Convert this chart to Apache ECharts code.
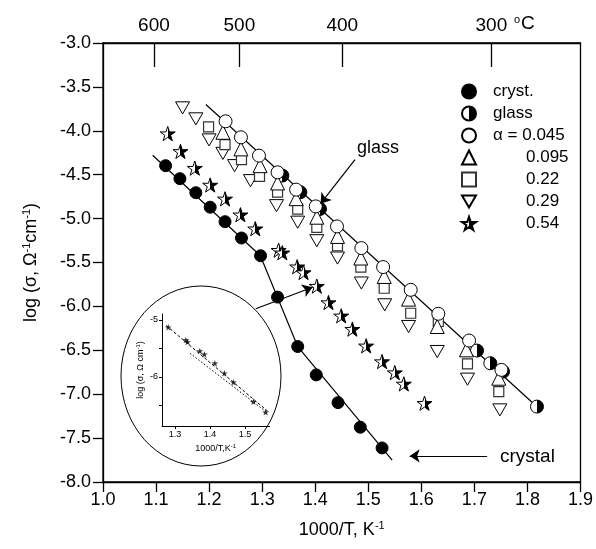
<!DOCTYPE html>
<html>
  <head>
    <meta charset="UTF-8" />
    <script src="https://cdn.jsdelivr.net/npm/echarts@6/dist/echarts.min.js"></script>
  </head>
  <body style="margin:0;background:#fff">
    <div id="main" style="width:596px;height:549px"></div>
    <script>
      // log(sigma) vs 1000/T
      const cryst = [[1.118,-4.397],[1.145,-4.545],[1.175,-4.705],[1.202,-4.870],[1.230,-5.035],[1.261,-5.221],[1.297,-5.423],[1.329,-5.894],[1.367,-6.457],[1.402,-6.780],[1.443,-7.096],[1.485,-7.376],[1.526,-7.612]];
      const glass = [[1.338,-4.51],[1.372,-4.70],[1.409,-4.89],[1.705,-6.503],[1.730,-6.647],[1.754,-6.742],[1.818,-7.141]];
      const a045 = [[1.231,-3.892],[1.260,-4.074],[1.294,-4.283],[1.329,-4.473],[1.364,-4.670],[1.401,-4.861],[1.441,-5.089],[1.487,-5.336],[1.528,-5.552],[1.580,-5.811],[1.632,-6.084],[1.690,-6.389],[1.751,-6.723]];
      const a095 = [[1.226,-4.017],[1.260,-4.206],[1.296,-4.397],[1.329,-4.594],[1.364,-4.773],[1.403,-4.984],[1.442,-5.203],[1.486,-5.449],[1.530,-5.659],[1.576,-5.917],[1.630,-6.229],[1.685,-6.495],[1.746,-6.818]];
      const a022 = [[1.199,-3.955],[1.230,-4.157],[1.261,-4.328],[1.295,-4.519],[1.329,-4.699],[1.367,-4.893],[1.403,-5.101],[1.442,-5.309],[1.486,-5.553],[1.530,-5.793],[1.580,-6.078],[1.632,-6.172],[1.687,-6.655],[1.746,-6.970]];
      const a029 = [[1.150,-3.739],[1.175,-3.864],[1.200,-4.104],[1.226,-4.257],[1.248,-4.397],[1.278,-4.568],[1.327,-4.853],[1.367,-5.041],[1.403,-5.252],[1.442,-5.449],[1.487,-5.734],[1.531,-5.982],[1.576,-6.229],[1.630,-6.514],[1.687,-6.829],[1.748,-7.179]];
      const a054 = [[1.122,-4.032],[1.146,-4.234],[1.173,-4.425],[1.202,-4.617],[1.230,-4.775],[1.259,-4.956],[1.287,-5.115],[1.331,-5.360],[1.338,-5.389],[1.366,-5.548],[1.378,-5.614],[1.403,-5.769],[1.425,-5.956],[1.449,-6.107],[1.470,-6.259],[1.496,-6.449],[1.526,-6.628],[1.550,-6.754],[1.567,-6.883],[1.606,-7.103]];
      const crystFit = [[1.0936,-4.279],[1.2966,-5.423],[1.367,-6.457],[1.545,-7.75]];
      const glassFit = [[1.194,-3.701],[1.821,-7.160]];

      // inset
      const insetStars = [[1.281,-5.128],[1.331,-5.351],[1.336,-5.386],[1.371,-5.544],[1.384,-5.602],[1.414,-5.760],[1.441,-5.935],[1.467,-6.093],[1.524,-6.433],[1.559,-6.619]];
      const insetUpper = [[1.275,-5.097],[1.565,-6.602]];
      const insetLower = [[1.343,-5.585],[1.565,-6.633]];

      // top axis: temperature in C and where its ticks sit on 1000/T
      const topTemps = [600, 500, 400, 300];
      const topPos = [1.096, 1.257, 1.451, 1.732];

      const legendNames = ['cryst.', 'glass', 'α = 0.045', '0.095', '0.22', '0.29', '0.54'];

      // annotation arrows [from, to]
      const arrows = [
        [[1.288,-6.027],[1.395,-5.782]],
        [[1.475,-4.328],[1.410,-4.830]],
        [[1.724,-7.703],[1.578,-7.703]]
      ];

      const font = 'Liberation Sans, Arial, sans-serif';

      function starPath() {
        let d = '';
        for (let i = 0; i < 10; i++) {
          const r = i % 2 ? 19.1 : 50;
          const a = Math.PI / 5 * i - Math.PI / 2;
          d += (i ? 'L' : 'M') + (50 + r * Math.cos(a)).toFixed(2) + ' ' + (50 + r * Math.sin(a)).toFixed(2);
        }
        return 'path://' + d + 'Z';
      }
      const star = starPath();
      const downTri = 'path://M0 0L20 0L10 17.32Z';
      const half = () => new echarts.graphic.LinearGradient(0, 0, 1, 0, [
        { offset: 0, color: '#fff' }, { offset: 0.5, color: '#fff' },
        { offset: 0.5, color: '#000' }, { offset: 1, color: '#000' }
      ]);

      const sup = { fontSize: 11, padding: [0, 0, 9, 0], fontFamily: font, color: '#000' };
      const supSmall = { fontSize: 6, padding: [0, 0, 5, 0], fontFamily: font, color: '#000' };
      const axisLine = { show: true, lineStyle: { color: '#000', width: 1.3 } };

      function scatter(name, data, symbol, size, color, extra) {
        return Object.assign({
          name, type: 'scatter', data, symbol, symbolSize: size,
          symbolKeepAspect: true,
          itemStyle: { color, borderColor: '#000', borderWidth: 1, opacity: 1 },
          xAxisIndex: 0, yAxisIndex: 0, z: 3
        }, extra || {});
      }
      function fit(data, extra) {
        return Object.assign({
          type: 'line', data, symbol: 'none', silent: true,
          lineStyle: { color: '#000', width: 1.2 },
          xAxisIndex: 0, yAxisIndex: 0, z: 2
        }, extra || {});
      }

      const chart = echarts.init(document.getElementById('main'));
      chart.setOption({
        animation: false,
        textStyle: { fontFamily: font },
        grid: [
          { left: 103, right: 12, top: 43, bottom: 67, show: true, borderColor: '#000', borderWidth: 1.3 },
          { left: 162, top: 314, width: 107.5, height: 112 }
        ],
        legend: {
          orient: 'vertical', left: 456, top: 78, itemWidth: 14, itemHeight: 14, itemGap: 5,
          data: legendNames,
          formatter: n => (n[0] === '0' ? '{w| }' : '{g| }') + n,
          textStyle: {
            fontSize: 17, color: '#000', fontFamily: font, lineHeight: 14,
            rich: { w: { width: 45, fontSize: 17, lineHeight: 14 }, g: { width: 12, fontSize: 17, lineHeight: 14 } }
          }
        },
        xAxis: [
          {
            type: 'value', min: 1, max: 1.9, interval: 0.1, gridIndex: 0,
            axisLine, splitLine: { show: false },
            axisTick: { length: 10, lineStyle: { color: '#000', width: 1.3 } },
            axisLabel: { formatter: v => v.toFixed(1), fontSize: 18, color: '#000', margin: 9, fontFamily: font },
            name: '1000/T, K{s|-1}', nameLocation: 'middle', nameGap: 38,
            nameTextStyle: { fontSize: 18, color: '#000', fontFamily: font, rich: { s: sup } }
          },
          {
            type: 'value', min: 1, max: 1.9, position: 'top', gridIndex: 0,
            axisLine, splitLine: { show: false },
            axisTick: { show: true, inside: true, length: 24, customValues: topPos, lineStyle: { color: '#000', width: 1.3 } },
            axisLabel: {
              customValues: topPos, fontSize: 19, color: '#000', margin: 8, fontFamily: font,
              formatter: v => {
                let k = 0;
                topPos.forEach((p, i) => { if (Math.abs(p - v) < Math.abs(topPos[k] - v)) k = i; });
                return String(topTemps[k]);
              }
            }
          },
          {
            type: 'value', min: 1.263, max: 1.57, gridIndex: 1,
            axisLine: { show: true, lineStyle: { color: '#000', width: 1 } }, splitLine: { show: false },
            axisTick: { customValues: [1.3, 1.4, 1.5], length: 3, lineStyle: { color: '#000' } },
            axisLabel: { customValues: [1.3, 1.4, 1.5], formatter: v => v.toFixed(1), fontSize: 9, color: '#000', margin: 4 },
            name: '1000/T,K{s|-1}', nameLocation: 'middle', nameGap: 17,
            nameTextStyle: { fontSize: 9, color: '#000', fontFamily: font, rich: { s: supSmall } }
          }
        ],
        yAxis: [
          {
            type: 'value', min: -8, max: -3, interval: 0.5, gridIndex: 0,
            axisLine, splitLine: { show: false },
            axisTick: { length: 10, lineStyle: { color: '#000', width: 1.3 } },
            axisLabel: { formatter: v => v.toFixed(1), fontSize: 18, color: '#000', margin: 12, fontFamily: font },
            name: 'log (σ, Ω{s|-1}cm{s|-1})', nameLocation: 'middle', nameGap: 62, nameRotate: 90,
            nameTextStyle: { fontSize: 18, color: '#000', fontFamily: font, rich: { s: sup } }
          },
          {
            type: 'value', min: -6.86, max: -4.895, gridIndex: 1,
            axisLine: { show: true, lineStyle: { color: '#000', width: 1 } }, splitLine: { show: false },
            axisTick: { customValues: [-6.5, -6, -5.5, -5], length: 3, lineStyle: { color: '#000' } },
            axisLabel: { customValues: [-6, -5], fontSize: 9, color: '#000', margin: 4 },
            name: 'log (σ, Ω cm{s|-1})', nameLocation: 'middle', nameGap: 16, nameRotate: 90,
            nameTextStyle: { fontSize: 9, color: '#000', fontFamily: font, rich: { s: supSmall } }
          }
        ],
        graphic: [
          { type: 'ellipse', shape: { cx: 201, cy: 376, rx: 80, ry: 90 }, style: { fill: 'none', stroke: '#000', lineWidth: 1 }, z: 1 },
          { type: 'text', left: 357, top: 139, style: { text: 'glass', fontSize: 18, fill: '#000', fontFamily: font } },
          { type: 'text', left: 500, top: 447, style: { text: 'crystal', fontSize: 19, fill: '#000', fontFamily: font } },
          {
            type: 'text', left: 514, top: 14,
            style: { text: '{o|o}C', fontSize: 19, fill: '#000', fontFamily: font, rich: { o: { fontSize: 11, padding: [0, 1, 9, 0], fontFamily: font } } }
          }
        ],
        series: [
          scatter('glass', glass, 'circle', 13, half(), { z: 2 }),
          fit(glassFit),
          fit(crystFit),
          scatter('cryst.', cryst, 'circle', 12, '#000'),
          scatter('0.29', a029, downTri, 14, '#fff'),
          scatter('0.22', a022, 'rect', 10, '#fff', { itemStyle: { color: '#fff', borderColor: '#333', borderWidth: 1.2, opacity: 1 } }),
          scatter('0.095', a095, 'triangle', 14, '#fff'),
          scatter('α = 0.045', a045, 'circle', 13, '#fff'),
          scatter('0.54', a054, star, 15, half()),
          {
            type: 'lines', coordinateSystem: 'cartesian2d', xAxisIndex: 0, yAxisIndex: 0,
            symbol: ['none', 'arrow'], symbolSize: 10, silent: true, z: 4,
            lineStyle: { color: '#000', width: 1.2, opacity: 1, curveness: 0 },
            data: arrows.map(a => ({ coords: a }))
          },
          {
            type: 'scatter', data: insetStars, symbol: star, symbolSize: 7, symbolKeepAspect: true,
            xAxisIndex: 2, yAxisIndex: 1, itemStyle: { color: '#000' }, z: 3
          },
          {
            type: 'line', data: insetUpper, symbol: 'none', xAxisIndex: 2, yAxisIndex: 1,
            lineStyle: { color: '#000', width: 1, type: [3, 2] }
          },
          {
            type: 'line', data: insetLower, symbol: 'none', xAxisIndex: 2, yAxisIndex: 1,
            lineStyle: { color: '#000', width: 1, type: [1.5, 2] }
          }
        ]
      });
    </script>
  </body>
</html>
